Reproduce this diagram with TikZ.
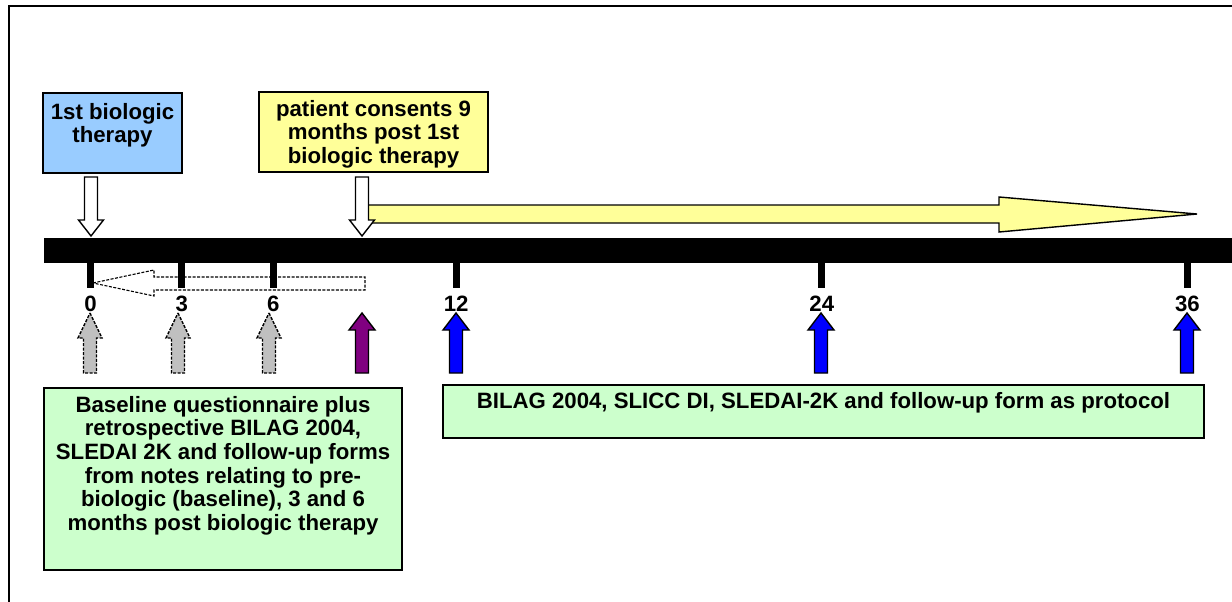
\documentclass[tikz,border=0pt]{standalone}
\usepackage{fontspec}
\setmainfont{Liberation Sans}
\usetikzlibrary{positioning}
\definecolor{skyfill}{HTML}{99CCFF}
\definecolor{lemonfill}{HTML}{FFFF99}
\definecolor{mintfill}{HTML}{CCFFCC}
\definecolor{greyfill}{HTML}{C0C0C0}
\definecolor{plumfill}{HTML}{800080}
\definecolor{deepblue}{HTML}{0000FF}

\begin{document}
\begin{tikzpicture}[x=1pt,y=-1pt,
  every node/.style={font=\fontsize{22.2}{23.6}\selectfont\bfseries},
  box/.style={draw,line width=2pt,inner sep=0pt,anchor=north west},
  boxtext/.style={align=center,inner sep=0pt},
  blockarr/.style={draw,line width=1.4pt,line join=miter},
  greyarr/.style={blockarr,fill=greyfill,dash pattern=on 3pt off 1.5pt},
  plumarr/.style={blockarr,fill=plumfill},
  bluearr/.style={blockarr,fill=deepblue}]
  \useasboundingbox (0,0) rectangle (1232,602);
  % frame
  \draw[line width=2pt] (9,602) -- (9,6) -- (1232,6);
  % boxes above the time line
  \node[box,fill=skyfill,minimum width=139pt,minimum height=80pt] (first) at (42,92) {};
  \node[boxtext,below=11pt of first.north] (firsttxt) {1st biologic\\therapy};
  \node[box,fill=lemonfill,minimum width=229pt,minimum height=80pt] (consent) at (258,91) {};
  \node[boxtext,below=9pt of consent.north] (consenttxt) {patient consents 9\\months post 1st\\biologic therapy};
  % follow-up arrow
  \draw[blockarr,fill=lemonfill] (362,205) -- (999,205) -- (999,197) -- (1197,214)
    -- (999,232) -- (999,223) -- (362,223) -- cycle;
  % white arrows from the boxes
  \foreach \x in {91,362}
    \draw[blockarr,fill=white] ({\x-6.5},177) -- ({\x+6.5},177) -- ({\x+6.5},220)
      -- ({\x+12.5},220) -- (\x,236) -- ({\x-12.5},220) -- ({\x-6.5},220) -- cycle;
  % time line
  \fill (44,238) rectangle (1232,263);
  % retrospective arrow
  \draw[blockarr,fill=white,dash pattern=on 3pt off 1.5pt,line width=1.1pt]
    (93,283) -- (154,270) -- (154,277) -- (365,277) -- (365,290) -- (154,290)
    -- (154,296) -- cycle;
  % months
  \foreach \m in {0,3,6,12,24,36} {
    \fill ({90.5+30.47*\m-3.5},262) rectangle ++(7,26);
    \node (lab\m) at ({90.5+30.47*\m},304) {\m};
  }
  % visit arrows
  \foreach \x/\h/\w/\st in {90/25/12/greyarr,178/25/12/greyarr,269/25/12/greyarr,
      362/17/13/plumarr,456/17/13/bluearr,821/17/13/bluearr,1187/17/13/bluearr}
    \draw[\st] (\x,313) -- ({\x+\w},{313+\h}) -- ({\x+6.5},{313+\h}) -- ({\x+6.5},373)
      -- ({\x-6.5},373) -- ({\x-6.5},{313+\h}) -- ({\x-\w},{313+\h}) -- cycle;
  % boxes below the time line
  \node[box,fill=mintfill,minimum width=358pt,minimum height=182pt] (baseline) at (43,387) {};
  \node[boxtext,below=9pt of baseline.north] (baselinetxt) {Baseline questionnaire plus\\retrospective BILAG 2004,\\SLEDAI 2K and follow-up forms\\from notes relating to pre-\\biologic (baseline), 3 and 6\\months post biologic therapy};
  \node[box,fill=mintfill,minimum width=761pt,minimum height=53pt] (protocol) at (442,384) {};
  \node[boxtext,below=8pt of protocol.north] (protocoltxt) {BILAG 2004, SLICC DI, SLEDAI-2K and follow-up form as protocol};
\end{tikzpicture}
\end{document}
